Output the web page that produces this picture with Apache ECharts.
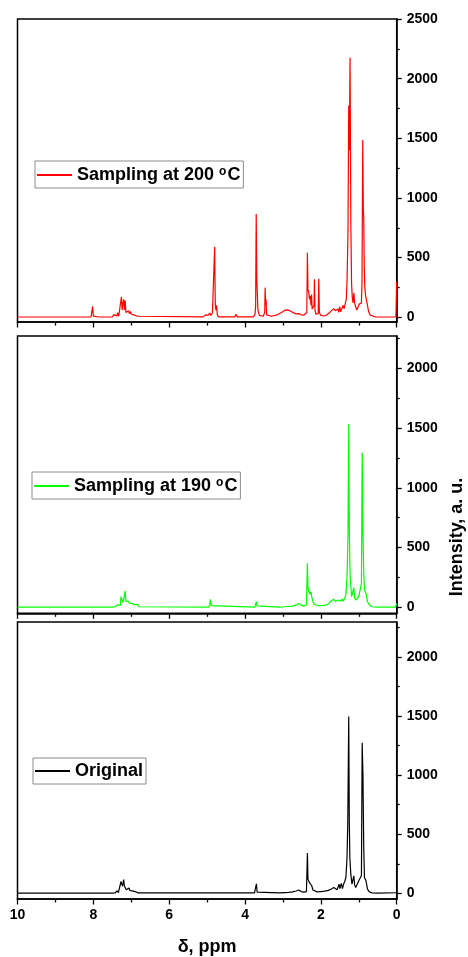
<!DOCTYPE html>
<html>
<head>
<meta charset="utf-8">
<script src="https://cdn.jsdelivr.net/npm/echarts@6/dist/echarts.min.js"></script>
<style>
html,body{margin:0;padding:0;background:#fff;}
#chart{width:468px;height:957px;}
</style>
</head>
<body>
<div id="chart"></div>
<script>
// ---- data: [chemical shift (ppm), intensity (a.u.)] ----
var spec200 = [
 [10.0,2],[9.84,2],[9.80,18],[9.76,2],
 [8.06,2],[8.02,92],[8.00,10],[7.98,2],
 [7.86,2],[7.84,14],[7.82,2],
 [7.50,3],[7.46,22],[7.43,6],[7.38,10],[7.36,38],[7.33,8],[7.28,20],[7.26,172],[7.24,60],[7.22,120],[7.20,150],[7.18,60],[7.16,140],[7.14,40],[7.10,30],[7.07,55],[7.05,30],[7.02,48],[7.00,25],[6.96,38],[6.93,20],[6.90,28],[6.87,12],[6.83,28],[6.80,8],[6.76,3],
 [5.10,3],[5.04,20],[5.00,30],[4.97,18],[4.93,35],[4.90,15],[4.86,38],[4.82,30],[4.80,590],[4.785,120],[4.77,60],[4.75,100],[4.73,20],[4.70,3],
 [4.27,3],[4.24,25],[4.21,3],
 [3.78,3],[3.74,20],[3.72,90],[3.705,866],[3.69,330],[3.675,320],[3.66,60],[3.62,15],[3.52,8],[3.48,40],[3.47,248],[3.455,100],[3.445,150],[3.43,20],[3.40,8],
 [3.30,8],[3.15,20],[3.05,38],[2.95,58],[2.88,62],[2.80,52],[2.72,36],[2.65,28],[2.58,30],[2.52,20],[2.45,18],[2.40,22],[2.37,40],
 [2.355,540],[2.34,230],[2.32,210],[2.30,150],[2.28,180],[2.26,100],[2.245,190],[2.23,70],[2.20,60],[2.18,100],[2.17,318],[2.155,60],[2.13,25],[2.10,18],[2.07,30],[2.055,322],[2.04,40],[2.00,15],[1.92,10],[1.85,18],[1.78,35],[1.72,55],[1.66,72],[1.62,55],[1.58,42],[1.55,70],[1.53,40],[1.50,88],[1.48,45],[1.44,60],[1.41,100],[1.39,70],[1.36,110],[1.33,150],
 [1.31,300],[1.285,700],[1.265,1775],[1.25,1400],[1.23,2175],[1.21,800],[1.19,280],[1.17,160],[1.15,120],[1.13,205],[1.11,120],[1.08,85],[1.05,60],[1.02,55],[0.99,110],[0.96,100],[0.93,120],[0.915,300],[0.895,1485],[0.88,900],[0.87,840],[0.855,420],[0.84,250],[0.82,180],[0.80,190],[0.77,100],[0.74,45],[0.70,18],[0.65,6],[0.55,2],[0.02,2],[0.0,298]
];
var spec190 = [
 [10.0,2],[7.86,2],[7.84,18],[7.82,2],
 [7.50,2],[7.46,14],[7.43,3],[7.38,6],[7.37,20],[7.34,4],[7.29,15],[7.27,90],[7.25,103],[7.22,40],[7.20,61],[7.18,50],[7.16,137],[7.14,47],[7.11,40],[7.08,53],[7.05,35],[7.02,47],[6.98,33],[6.94,42],[6.91,20],[6.87,25],[6.83,25],[6.80,5],[6.76,2],
 [4.96,2],[4.93,20],[4.91,67],[4.89,15],[4.86,2],
 [3.74,2],[3.72,15],[3.70,47],[3.68,12],[3.65,2],
 [3.10,2],[2.95,5],[2.85,8],[2.75,10],[2.65,20],[2.58,33],[2.52,18],[2.45,10],[2.38,20],
 [2.355,368],[2.34,172],[2.32,131],[2.30,145],[2.28,110],[2.26,131],[2.24,89],[2.21,47],[2.18,28],[2.12,19],[2.05,15],[1.95,15],[1.85,20],[1.78,35],[1.72,55],[1.66,67],[1.62,50],[1.58,39],[1.53,61],[1.50,45],[1.47,50],[1.44,70],[1.41,50],[1.37,80],[1.34,103],
 [1.31,256],[1.285,600],[1.265,1534],[1.25,700],[1.235,340],[1.22,228],[1.19,89],[1.16,75],[1.13,164],[1.11,80],[1.08,61],[1.04,47],[1.00,89],[0.96,103],[0.93,200],[0.91,1294],[0.89,619],[0.87,300],[0.85,145],[0.81,117],[0.77,47],[0.72,19],[0.65,5],[0.50,2],[0.03,2],[0.0,33]
];
var specOrig = [
 [10.0,2],[7.86,2],[7.84,11],[7.82,2],
 [7.50,2],[7.46,10],[7.43,3],[7.37,22],[7.34,5],[7.29,15],[7.27,100],[7.25,78],[7.23,60],[7.20,117],[7.18,60],[7.16,50],[7.13,30],[7.10,28],[7.06,45],[7.04,25],[7.01,34],[6.98,20],[6.94,28],[6.90,15],[6.86,17],[6.82,4],[6.78,2],
 [5.50,3],[4.50,4],[3.75,3],[3.72,12],[3.70,80],[3.68,10],[3.65,3],
 [3.10,3],[2.95,6],[2.85,8],[2.75,12],[2.65,20],[2.58,28],[2.52,15],[2.45,10],[2.38,15],
 [2.355,340],[2.34,120],[2.32,106],[2.30,90],[2.28,92],[2.26,106],[2.24,64],[2.21,28],[2.18,15],[2.10,12],[2.00,15],[1.90,18],[1.80,25],[1.72,36],[1.66,50],[1.62,40],[1.57,30],[1.52,78],[1.50,40],[1.46,84],[1.43,40],[1.40,78],[1.37,100],[1.34,134],
 [1.31,301],[1.29,600],[1.265,1496],[1.25,600],[1.235,301],[1.21,162],[1.18,78],[1.15,80],[1.13,148],[1.11,70],[1.08,50],[1.04,45],[1.00,106],[0.97,90],[0.93,150],[0.91,1273],[0.89,1000],[0.87,400],[0.85,134],[0.81,106],[0.77,36],[0.72,12],[0.65,4],[0.50,2],[0.0,5]
];
var seriesNames = ['Sampling at 200 °C', 'Sampling at 190 °C', 'Original'];
var seriesColors = ['#ff0000', '#00ff00', '#000000'];
var yMajorTicks = [0, 500, 1000, 1500, 2000, 2500];
var yMinorTicks = [250, 750, 1250, 1750, 2250];
var xTickLabels = [0, 2, 4, 6, 8, 10];

// ---- layout ----
var FONT = 'Liberation Sans, Arial, sans-serif';
var grids = [
  {left: 17.5, right: 71.3, top: 19, height: 303},
  {left: 17.5, right: 71.3, top: 336, height: 277.3},
  {left: 17.5, right: 71.3, top: 622, height: 279.7}
];
var yRanges = [[-40, 2500], [-50, 2270], [-48, 2295]];
var legendPos = [{left: 35, top: 161}, {left: 32, top: 472}, {left: 33, top: 758}];
var specs = [spec200, spec190, specOrig];

function plain(v) { return String(v); }

var option = {
  animation: false,
  backgroundColor: '#fff',
  grid: grids.map(function (g) {
    return Object.assign({show: true, borderColor: '#000', borderWidth: 1.5, backgroundColor: 'transparent'}, g);
  }),
  xAxis: [],
  yAxis: [],
  series: [],
  legend: [],
  graphic: [{
    type: 'text',
    x: 457, y: 537,
    rotation: Math.PI / 2,
    style: {
      text: 'Intensity, a. u.',
      font: 'bold 18px ' + FONT,
      fill: '#000',
      textAlign: 'center', textVerticalAlign: 'middle',
      align: 'center', verticalAlign: 'middle'
    }
  }]
};

for (var i = 0; i < 3; i++) {
  var isLast = i === 2;
  option.xAxis.push({
    type: 'value', gridIndex: i, min: 0, max: 10, interval: 2, inverse: true,
    position: 'bottom',
    axisLine: {show: true, onZero: false, lineStyle: {color: '#000', width: 1.5}},
    axisTick: {show: true, length: 5.5, lineStyle: {color: '#000', width: 1.3}},
    minorTick: {show: true, splitNumber: 2, length: 3.5, lineStyle: {color: '#000', width: 1.3}},
    splitLine: {show: false}, minorSplitLine: {show: false},
    axisLabel: {show: isLast, margin: 9, color: '#000', fontFamily: FONT, fontWeight: 'bold', fontSize: 14,
      customValues: xTickLabels, formatter: plain},
    name: isLast ? 'δ, ppm' : '',
    nameLocation: 'middle', nameGap: 39,
    nameTextStyle: {color: '#000', fontFamily: FONT, fontWeight: 'bold', fontSize: 18}
  });
  var yr = yRanges[i];
  var majors = yMajorTicks.filter(function (v) { return v <= yr[1]; });
  var minors = yMinorTicks.filter(function (v) { return v <= yr[1]; });
  option.yAxis.push({
    type: 'value', gridIndex: i, min: yr[0], max: yr[1], position: 'right',
    axisLine: {show: true, onZero: false, lineStyle: {color: '#000', width: 1.5}},
    axisTick: {show: true, length: 5, customValues: majors, lineStyle: {color: '#000', width: 1.3}},
    splitLine: {show: false},
    axisLabel: {show: true, margin: 10, color: '#000', fontFamily: FONT, fontWeight: 'bold', fontSize: 14,
      customValues: majors, formatter: plain}
  });
  option.yAxis.push({
    type: 'value', gridIndex: i, min: yr[0], max: yr[1], position: 'right', offset: 0,
    axisLine: {show: false},
    axisTick: {show: true, length: 3, customValues: minors, lineStyle: {color: '#000', width: 1.3}},
    splitLine: {show: false},
    axisLabel: {show: false}
  });
  option.series.push({
    type: 'line', name: seriesNames[i], xAxisIndex: i, yAxisIndex: i * 2,
    data: specs[i], symbol: 'none', showSymbol: false, smooth: false,
    color: seriesColors[i],
    lineStyle: {color: seriesColors[i], width: 1.2},
    clip: true
  });
  option.legend.push({
    show: true, left: legendPos[i].left, top: legendPos[i].top,
    data: [seriesNames[i]],
    orient: 'horizontal', padding: [4, 3, 4, 2],
    icon: 'rect',
    itemWidth: 35, itemHeight: 1.8, itemGap: 0,
    borderColor: '#8c8c8c', borderWidth: 1, backgroundColor: '#fff',
    itemStyle: {color: seriesColors[i], borderWidth: 0},
    selectedMode: false,
    formatter: function (name) {
      if (name.indexOf('°C') >= 0) {
        return '{n|' + name.replace(' °C', ' ') + '}{s|o}{n|C}';
      }
      return '{n|' + name + '}';
    },
    textStyle: {
      color: '#000', fontFamily: FONT, fontWeight: 'bold', fontSize: 18,
      rich: {
        n: {color: '#000', fontFamily: FONT, fontWeight: 'bold', fontSize: 18, lineHeight: 20},
        s: {color: '#000', fontFamily: FONT, fontWeight: 'bold', fontSize: 12, verticalAlign: 'top', lineHeight: 12, padding: [1, 1, 0, 0]}
      }
    }
  });
}

var chart = echarts.init(document.getElementById('chart'), null, {renderer: 'canvas'});
chart.setOption(option);
</script>
</body>
</html>
